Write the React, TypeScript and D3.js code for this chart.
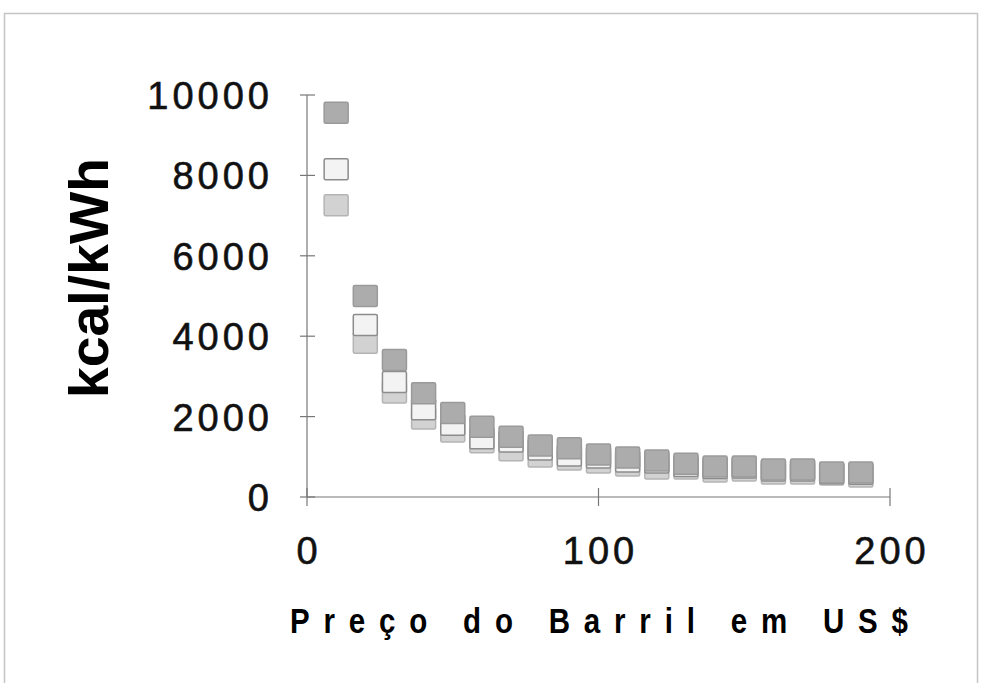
import { useEffect, useRef } from 'react';
import * as d3 from 'd3';

// barrel price (US$)
const precos = [10, 20, 30, 40, 50, 60, 70, 80, 90, 100, 110, 120, 130, 140, 150, 160, 170, 180, 190];

// kcal/kWh, three series
const serieEscura = [9560, 5000, 3410, 2580, 2090, 1750, 1500, 1280, 1210, 1060, 980, 910, 830, 760, 760, 685, 685, 610, 610];
const serieBranca = [8150, 4280, 2860, 2180, 1800, 1460, 1380, 1180, 1030, 980, 880, 860, 770, 720, 735, 660, 660, 590, 580];
const serieClara = [7260, 3840, 2600, 1950, 1630, 1360, 1160, 1010, 930, 860, 785, 710, 710, 635, 660, 585, 585, 560, 510];

const yTicks = [0, 2000, 4000, 6000, 8000, 10000];
const xTicks = [0, 100, 200];

const width = 982;
const height = 683;
const plot = { left: 307, right: 890, top: 95, bottom: 497 };
const markW = 24;
const markH = 21;

const series = [
    { name: 'clara', values: serieClara, fill: '#d2d2d2', stroke: '#b4b4b4' },
    { name: 'branca', values: serieBranca, fill: '#f3f3f3', stroke: '#8c8c8c' },
    { name: 'escura', values: serieEscura, fill: '#acacac', stroke: '#9a9a9a' },
];

const App = () => {
    const svgRef = useRef<SVGSVGElement>(null);

    useEffect(() => {
        const svg = d3.select(svgRef.current);
        svg.selectAll('*').remove();

        const x = d3.scaleLinear().domain([0, 200]).range([plot.left, plot.right]);
        const y = d3.scaleLinear().domain([0, 10000]).range([plot.bottom, plot.top]);

        // scanned page frame
        svg.append('rect')
            .attr('x', 4.5)
            .attr('y', 13.5)
            .attr('width', 973)
            .attr('height', 680)
            .attr('fill', 'none')
            .attr('stroke', '#c4c4c4')
            .attr('stroke-width', 1.5);

        const axisColor = '#777';

        // y axis
        svg.append('line')
            .attr('x1', plot.left).attr('x2', plot.left)
            .attr('y1', plot.top).attr('y2', plot.bottom)
            .attr('stroke', axisColor).attr('stroke-width', 1.2);
        svg.selectAll('.ytick')
            .data(yTicks)
            .join('line')
            .attr('class', 'ytick')
            .attr('x1', plot.left - 7).attr('x2', plot.left + 8)
            .attr('y1', d => y(d)).attr('y2', d => y(d))
            .attr('stroke', axisColor).attr('stroke-width', 1.2);
        svg.selectAll('.ylabel')
            .data(yTicks)
            .join('text')
            .attr('class', 'ylabel')
            .attr('x', 273)
            .attr('y', d => y(d) + 14)
            .attr('text-anchor', 'end')
            .style('font-family', 'Liberation Sans, Arial, sans-serif')
            .style('font-size', '38px')
            .style('letter-spacing', '4px')
            .attr('fill', '#111')
            .attr('stroke', '#111')
            .attr('stroke-width', 0.6)
            .text(d => d);

        // x axis
        svg.append('line')
            .attr('x1', plot.left).attr('x2', plot.right)
            .attr('y1', plot.bottom).attr('y2', plot.bottom)
            .attr('stroke', axisColor).attr('stroke-width', 1.2);
        svg.selectAll('.xtick')
            .data(xTicks)
            .join('line')
            .attr('class', 'xtick')
            .attr('x1', d => x(d)).attr('x2', d => x(d))
            .attr('y1', plot.bottom - 9).attr('y2', plot.bottom + 9)
            .attr('stroke', axisColor).attr('stroke-width', 1.2);
        svg.selectAll('.xlabel')
            .data(xTicks)
            .join('text')
            .attr('class', 'xlabel')
            .attr('x', d => x(d) + 2)
            .attr('y', 564)
            .attr('text-anchor', 'middle')
            .style('font-family', 'Liberation Sans, Arial, sans-serif')
            .style('font-size', '38px')
            .style('letter-spacing', '4px')
            .attr('fill', '#111')
            .attr('stroke', '#111')
            .attr('stroke-width', 0.6)
            .text(d => d);

        // markers, lightest series underneath
        series.forEach(s => {
            svg.append('g')
                .selectAll('rect')
                .data(precos.map((p, i) => ({ p, v: s.values[i] })))
                .join('rect')
                .attr('x', d => x(d.p) - markW / 2)
                .attr('y', d => y(d.v) - markH / 2)
                .attr('width', markW)
                .attr('height', markH)
                .attr('rx', 1.5)
                .attr('fill', s.fill)
                .attr('stroke', s.stroke)
                .attr('stroke-width', 1.5);
        });

        // axis titles (condensed bold, as in the scan)
        svg.append('text')
            .attr('transform', 'translate(290,633) scale(0.82,1)')
            .attr('x', 0)
            .attr('y', 0)
            .attr('textLength', 618 / 0.82)
            .attr('lengthAdjust', 'spacing')
            .style('font-family', 'Liberation Sans, Arial, sans-serif')
            .style('font-size', '36px')
            .style('font-weight', 'bold')
            .attr('fill', '#000')
            .text('Preço do Barril em US$');

        svg.append('text')
            .attr('transform', 'translate(108,278) rotate(-90)')
            .attr('text-anchor', 'middle')
            .attr('textLength', 240)
            .attr('lengthAdjust', 'spacingAndGlyphs')
            .style('font-family', 'Liberation Sans, Arial, sans-serif')
            .style('font-size', '56px')
            .style('font-weight', 'bold')
            .attr('fill', '#000')
            .text('kcal/kWh');
    }, []);

    return (
        <svg
            ref={svgRef}
            width={width}
            height={height}
            style={{ position: 'absolute', left: 0, top: 0, background: '#fff' }}
        ></svg>
    );
};

export default App;
